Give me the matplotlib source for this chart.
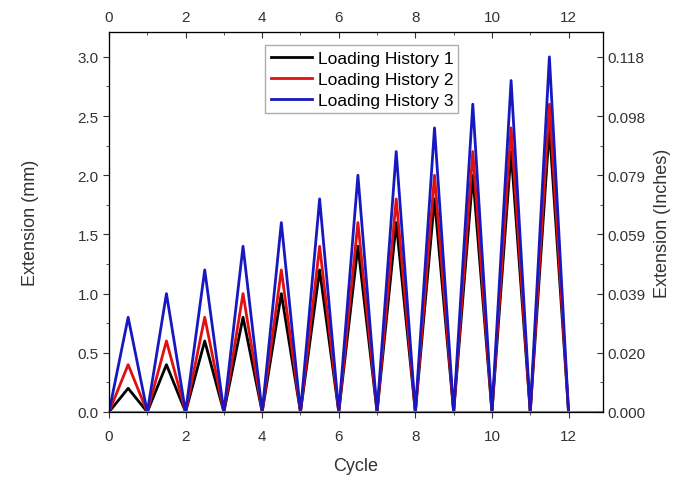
import matplotlib
matplotlib.use("Agg")
import matplotlib.pyplot as plt
from matplotlib.ticker import MultipleLocator, FixedLocator, FixedFormatter

plt.rcParams["font.family"] = ["Liberation Sans", "DejaVu Sans"]

# cycle positions: valleys at integers, peaks at half cycles
cycle = [0, 0.5, 1, 1.5, 2, 2.5, 3, 3.5, 4, 4.5, 5, 5.5, 6, 6.5, 7, 7.5, 8, 8.5,
         9, 9.5, 10, 10.5, 11, 11.5, 12]
hist1 = [0, 0.2, 0, 0.4, 0, 0.6, 0, 0.8, 0, 1.0, 0, 1.2, 0, 1.4, 0, 1.6, 0, 1.8,
         0, 2.0, 0, 2.2, 0, 2.4, 0]
hist2 = [0, 0.4, 0, 0.6, 0, 0.8, 0, 1.0, 0, 1.2, 0, 1.4, 0, 1.6, 0, 1.8, 0, 2.0,
         0, 2.2, 0, 2.4, 0, 2.6, 0]
hist3 = [0, 0.8, 0, 1.0, 0, 1.2, 0, 1.4, 0, 1.6, 0, 1.8, 0, 2.0, 0, 2.2, 0, 2.4,
         0, 2.6, 0, 2.8, 0, 3.0, 0]
labels = ["Loading History 1", "Loading History 2", "Loading History 3"]
colors = ["black", "#e01010", "#1818c0"]

mm_ticks = [0, 0.5, 1.0, 1.5, 2.0, 2.5, 3.0]
inch_labels = [f"{v / 25.4:.3f}" for v in mm_ticks]

fig = plt.figure(figsize=(6.85, 4.85), dpi=100)
ax = fig.add_axes([109 / 685, 72 / 485, 494 / 685, 380 / 485])

for y, lab, c in zip([hist1, hist2, hist3], labels, colors):
    ax.plot(cycle, y, color=c, linewidth=2.0, label=lab)

ax.set_xlim(0, 12.9)
ax.set_ylim(0, 3.21)
ax.xaxis.set_major_locator(MultipleLocator(2))
ax.xaxis.set_minor_locator(MultipleLocator(1))
ax.yaxis.set_major_locator(FixedLocator(mm_ticks))
ax.yaxis.set_minor_locator(MultipleLocator(0.25))
ax.yaxis.set_major_formatter(FixedFormatter(["0.0", "0.5", "1.0", "1.5", "2.0", "2.5", "3.0"]))
ax.tick_params(which="both", direction="out", labelsize=11, colors="#333333")
ax.tick_params(which="major", length=4)
ax.tick_params(which="minor", length=2.5)
ax.tick_params(axis="x", which="major", pad=8)
ax.spines["bottom"].set_color("#888888")
ax.spines["bottom"].set_linewidth(1.5)
ax.set_xlabel("Cycle", fontsize=13, color="#333333", labelpad=10)
ax.set_ylabel("Extension (mm)", fontsize=13, color="#333333", labelpad=28)

top = ax.twiny()
top.set_xlim(ax.get_xlim())
top.xaxis.set_major_locator(MultipleLocator(2))
top.xaxis.set_minor_locator(MultipleLocator(1))
top.tick_params(which="both", direction="in", labelsize=11, colors="#333333", pad=6)
top.tick_params(which="major", length=4)
top.tick_params(which="minor", length=2.5)

right = ax.twinx()
right.set_ylim(ax.get_ylim())
right.yaxis.set_major_locator(FixedLocator(mm_ticks))
right.yaxis.set_major_formatter(FixedFormatter(inch_labels))
right.yaxis.set_minor_locator(MultipleLocator(0.25))
right.tick_params(which="both", direction="in", labelsize=11, colors="#333333")
right.tick_params(which="major", length=4)
right.tick_params(which="minor", length=2.5)
right.set_ylabel("Extension (Inches)", fontsize=13, color="#333333", labelpad=6)

leg = ax.legend(loc="upper center", bbox_to_anchor=(0.512, 0.965), fontsize=12.5,
                frameon=True, fancybox=False, edgecolor="#999999",
                handlelength=2.4, handletextpad=0.3, borderpad=0.3,
                labelspacing=0.35, borderaxespad=0.0)
leg.get_frame().set_linewidth(1.0)

fig.savefig("out.png", dpi=100)
